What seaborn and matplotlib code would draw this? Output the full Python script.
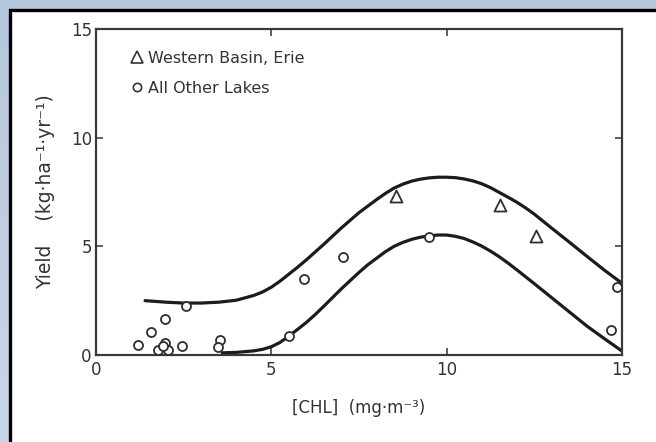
import numpy as np
import pandas as pd
import matplotlib
matplotlib.use("Agg")
import matplotlib.pyplot as plt
from matplotlib.patches import Rectangle
from matplotlib.lines import Line2D
import seaborn as sns

# ---- data ----
erie_x = [8.55, 11.52, 12.55]
erie_y = [7.32, 6.90, 5.48]

other_x = [1.21, 1.56, 1.97, 1.78, 1.97, 2.06, 1.90, 2.46, 2.56, 3.54, 3.49,
           5.50, 5.94, 7.03, 9.50, 14.70, 14.86]
other_y = [0.46, 1.07, 1.64, 0.23, 0.54, 0.23, 0.40, 0.43, 2.25, 0.69, 0.38,
           0.87, 3.48, 4.52, 5.42, 1.15, 3.14]

upper_x = [1.4, 2.0, 2.5, 3.0, 3.5, 4.0, 4.5, 4.75, 5.0, 5.25, 5.5, 5.75,
           6.0, 6.5, 7.0, 7.5, 8.0, 8.25, 8.5, 8.75, 9.0, 9.25, 9.5, 9.75,
           10.0, 10.25, 10.5, 10.75, 11.0, 11.25, 11.5, 11.75, 12.0, 12.25,
           12.5, 13.0, 13.5, 14.0, 14.5, 15.0]
upper_y = [2.50, 2.43, 2.39, 2.39, 2.43, 2.52, 2.74, 2.90, 3.12, 3.40, 3.72,
           4.04, 4.38, 5.10, 5.85, 6.55, 7.15, 7.43, 7.68, 7.86, 8.00, 8.09,
           8.15, 8.18, 8.18, 8.16, 8.10, 8.01, 7.88, 7.70, 7.48, 7.26, 7.03,
           6.77, 6.48, 5.83, 5.19, 4.54, 3.90, 3.30]

lower_x = [3.6, 4.0, 4.5, 4.75, 5.0, 5.25, 5.5, 5.75, 6.0, 6.25, 6.5, 7.0,
           7.5, 7.75, 8.0, 8.25, 8.5, 8.75, 9.0, 9.25, 9.5, 9.75, 10.0,
           10.25, 10.5, 10.75, 11.0, 11.25, 11.5, 11.75, 12.0, 12.5, 13.0,
           13.5, 14.0, 14.5, 15.0]
lower_y = [0.10, 0.12, 0.19, 0.26, 0.38, 0.58, 0.87, 1.18, 1.50, 1.86, 2.25,
           3.05, 3.80, 4.15, 4.45, 4.75, 5.00, 5.18, 5.32, 5.42, 5.48, 5.52,
           5.52, 5.46, 5.36, 5.20, 5.01, 4.78, 4.52, 4.23, 3.92, 3.28, 2.63,
           1.98, 1.33, 0.75, 0.18]

ticks = [0, 5, 10, 15]
tick_labels = ["0", "5", "10", "15"]
legend_labels = ["Western Basin, Erie", "All Other Lakes"]
xlabel = "[CHL]  (mg·m⁻³)"
ylabel = "Yield    (kg·ha⁻¹·yr⁻¹)"

# ---- figure ----
sns.set_style("ticks")
plt.rcParams["font.family"] = ["DejaVu Sans"]
W, H = 656, 442
fig = plt.figure(figsize=(W / 100, H / 100), dpi=100)

# background gradient + white panel
bg = fig.add_axes([0, 0, 1, 1], zorder=-10)
grad = np.linspace(0, 1, 256).reshape(-1, 1)
cmap = matplotlib.colors.LinearSegmentedColormap.from_list(
    "bg", ["#b6c6da", "#c9d7e6"])
bg.imshow(grad, aspect="auto", cmap=cmap, extent=[0, 1, 0, 1], origin="upper")
bg.set_xlim(0, 1)
bg.set_ylim(0, 1)
bg.axis("off")
bg.add_patch(Rectangle((10 / W, -0.05), 1.1, 1 - 10 / H + 0.05,
                       facecolor="white", edgecolor="black", linewidth=2.4))

ax = fig.add_axes([96 / W, 1 - 355 / H, (622 - 96) / W, (355 - 29) / H])
ax.set_facecolor("none")

ink = "#1c1c1c"
sns.lineplot(x=upper_x, y=upper_y, ax=ax, color=ink, linewidth=2.3, sort=False)
sns.lineplot(x=lower_x, y=lower_y, ax=ax, color=ink, linewidth=2.3, sort=False)

sns.scatterplot(x=other_x, y=other_y, ax=ax, marker="o", s=42,
                facecolor="white", edgecolor="#2e2e2e", linewidth=1.3, zorder=5)
sns.scatterplot(x=erie_x, y=erie_y, ax=ax, marker="^", s=75,
                facecolor="white", edgecolor="#2e2e2e", linewidth=1.3, zorder=5)

ax.set_xlim(0, 15)
ax.set_ylim(0, 15)
ax.set_xticks(ticks)
ax.set_xticklabels(tick_labels)
ax.set_yticks(ticks)
ax.set_yticklabels(tick_labels)
ax.tick_params(direction="in", length=5, width=1.2, colors="#444444",
               labelcolor="#333333", labelsize=12, top=True, right=True)
ax.tick_params(axis="x", pad=4)
ax.tick_params(axis="y", pad=3)
for sp in ax.spines.values():
    sp.set_color("#3a3a3a")
    sp.set_linewidth(1.6)

ax.set_xlabel(xlabel, fontsize=12, color="#333333", labelpad=15)
ax.set_ylabel(ylabel, fontsize=13.5, color="#333333", labelpad=11)

handles = [
    Line2D([], [], linestyle="none", marker="^", markersize=8,
           markerfacecolor="white", markeredgecolor="#333333",
           markeredgewidth=1.2),
    Line2D([], [], linestyle="none", marker="o", markersize=6,
           markerfacecolor="white", markeredgecolor="#333333",
           markeredgewidth=1.2),
]
leg = ax.legend(handles, legend_labels, loc="upper left", frameon=False,
                fontsize=11.5, handletextpad=0.1, handlelength=1.2,
                labelspacing=0.95, borderaxespad=0.4,
                bbox_to_anchor=(0.035, 0.972))
for t in leg.get_texts():
    t.set_color("#333333")

fig.savefig("out.png", dpi=100)
